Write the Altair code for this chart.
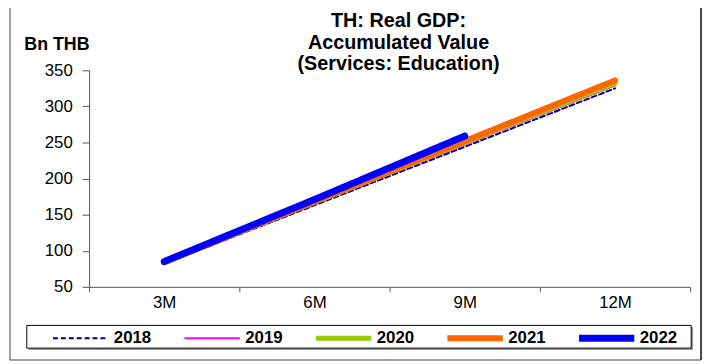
import altair as alt
import pandas as pd

periods = ["3M", "6M", "9M", "12M"]
years = ["2018", "2019", "2020", "2021", "2022"]
v2018 = [82, 163, 244, 325]
v2019 = [83, 165, 247, 329]
v2020 = [84, 167, 250, 332]
v2021 = [84, 168, 252, 336]
v2022 = [85, 171, 259]
colors = ["#000080", "#FF00FF", "#99CC00", "#FF6600", "#0000FF"]
widths = [2, 2, 5, 6, 7]
dashes = [[5, 3], [1, 0], [1, 0], [1, 0], [1, 0]]
title_lines = ["TH: Real GDP:", "Accumulated Value", "(Services: Education)"]
y_title = "Bn THB"

series = [v2018, v2019, v2020, v2021, v2022]
rows = []
for yr, vals in zip(years, series):
    for i, v in enumerate(vals):
        rows.append({"year": yr, "idx": i + 1, "period": periods[i], "value": v})
df = pd.DataFrame(rows)

FONT = "Liberation Sans"
label_expr = " : ".join(
    [f"datum.value == {i + 1} ? '{p}'" for i, p in enumerate(periods)]
) + " : ''"

lines = alt.Chart(df).mark_line(strokeCap="round", strokeJoin="round").encode(
    x=alt.X(
        "idx:Q",
        scale=alt.Scale(domain=[0.5, 4.5], nice=False, zero=False),
        axis=alt.Axis(
            values=[0.5, 1, 1.5, 2, 2.5, 3, 3.5, 4, 4.5],
            labelExpr=label_expr,
            tickOpacity={"condition": {"test": "datum.value % 1 == 0", "value": 0}, "value": 1},
            tickSize=5,
            labelPadding=3,
            title=None,
            grid=False,
            labelFontSize=17,
            labelFont=FONT,
            labelColor="black",
            domainColor="#555555",
            tickColor="#555555",
            labelFlush=False,
            labelOverlap=False,
        ),
    ),
    y=alt.Y(
        "value:Q",
        scale=alt.Scale(domain=[50, 350], nice=False, zero=False),
        axis=alt.Axis(
            values=[50, 100, 150, 200, 250, 300, 350],
            tickSize=7,
            labelPadding=10,
            grid=False,
            title=y_title,
            titleAngle=0,
            titleX=-66,
            titleY=-26,
            titleAlign="left",
            titleBaseline="middle",
            titleFont=FONT,
            titleFontSize=18,
            titleFontWeight="bold",
            titleColor="black",
            labelFontSize=17,
            labelFont=FONT,
            labelColor="black",
            domainColor="#555555",
            tickColor="#555555",
        ),
    ),
    color=alt.Color(
        "year:N",
        scale=alt.Scale(type="ordinal", domain=years, range=colors),
        legend=alt.Legend(
            orient="none",
            legendX=-40,
            legendY=261,
            direction="horizontal",
            columns=5,
            gridAlign="all",
            clipHeight=20,
            title=None,
            symbolType="stroke",
            symbolSize=3136,
            labelFont=FONT,
            labelFontSize=17,
            labelFontWeight="bold",
            labelColor="black",
            labelOffset=2,
            columnPadding=30,
            padding=0,
        ),
    ),
    strokeWidth=alt.StrokeWidth(
        "year:N", scale=alt.Scale(type="ordinal", domain=years, range=widths)
    ),
    strokeDash=alt.StrokeDash(
        "year:N", scale=alt.Scale(type="ordinal", domain=years, range=dashes)
    ),
    order=alt.Order("idx:Q"),
)

one = alt.Data(values=[{"a": 1}])
title_mark = alt.Chart(one).mark_text(
    text=title_lines,
    font=FONT,
    fontSize=20,
    fontWeight="bold",
    color="black",
    align="center",
    baseline="alphabetic",
    lineHeight=22,
).encode(x=alt.value(313), y=alt.value(-44))
legend_shadow = alt.Chart(one).mark_rect(fill="#999999").encode(
    x=alt.value(-61), x2=alt.value(611), y=alt.value(260), y2=alt.value(283)
)
legend_box = alt.Chart(one).mark_rect(fill="white", stroke="black", strokeWidth=1).encode(
    x=alt.value(-63), x2=alt.value(609), y=alt.value(258), y2=alt.value(281)
)
frame_left = alt.Chart(one).mark_rule(color="#444444").encode(
    x=alt.value(-80), y=alt.value(-70), y2=alt.value(293)
)
frame_right = alt.Chart(one).mark_rule(color="#444444", strokeWidth=2).encode(
    x=alt.value(619), y=alt.value(-70), y2=alt.value(293)
)
frame_bottom = alt.Chart(one).mark_rule(color="#444444").encode(
    x=alt.value(-80), x2=alt.value(619), y=alt.value(293)
)

chart = alt.layer(
    legend_shadow, legend_box, frame_left, frame_right, frame_bottom, title_mark, lines
).properties(
    width=608,
    height=219,
    autosize=alt.AutoSizeParams(type="none"),
    padding={"left": 82, "top": 61, "right": 14, "bottom": 75},
    background="white",
).configure_view(stroke=None)

chart.save("out.html", embed_options={"renderer": "svg", "actions": False})
